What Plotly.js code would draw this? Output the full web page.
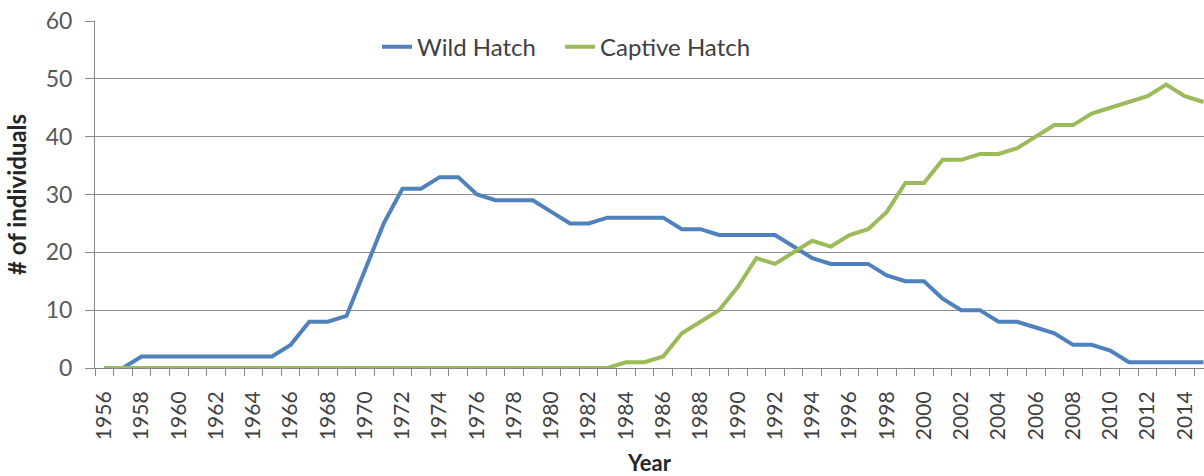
<!DOCTYPE html>
<html>
<head>
<meta charset="utf-8">
<script src="https://cdn.plot.ly/plotly-3.0.1.min.js"></script>
<style>
  html, body { margin: 0; padding: 0; background: #ffffff; }
  #chart { width: 1204px; height: 476px; }
</style>
</head>
<body>
<div id="chart"></div>
<script>
const years = [];
for (let y = 1956; y <= 2015; y++) years.push(y);

const wildHatch = [
  0, 0, 2, 2, 2, 2, 2, 2, 2, 2,        // 1956-1965
  4, 8, 8, 9, 17, 25, 31, 31, 33, 33,  // 1966-1975
  30, 29, 29, 29, 27, 25, 25, 26, 26, 26, // 1976-1985
  26, 24, 24, 23, 23, 23, 23, 21, 19, 18, // 1986-1995
  18, 18, 16, 15, 15, 12, 10, 10, 8, 8,   // 1996-2005
  7, 6, 4, 4, 3, 1, 1, 1, 1, 1            // 2006-2015
];

const captiveHatch = [
  0, 0, 0, 0, 0, 0, 0, 0, 0, 0,        // 1956-1965
  0, 0, 0, 0, 0, 0, 0, 0, 0, 0,        // 1966-1975
  0, 0, 0, 0, 0, 0, 0, 0, 1, 1,        // 1976-1985
  2, 6, 8, 10, 14, 19, 18, 20, 22, 21, // 1986-1995
  23, 24, 27, 32, 32, 36, 36, 37, 37, 38, // 1996-2005
  40, 42, 42, 44, 45, 46, 47, 49, 47, 46  // 2006-2015
];

const seriesNames = ["Wild Hatch", "Captive Hatch"];
const yTicks = [0, 10, 20, 30, 40, 50, 60];
const xLabelYears = years.filter(y => (y - 1956) % 2 === 0);

const FONT = "Lato, 'Open Sans', 'DejaVu Sans', sans-serif";
const legendFont = { family: FONT, size: 24, color: "#404040" };

const traces = [
  {
    x: years, y: wildHatch, name: seriesNames[0], type: "scatter", mode: "lines",
    line: { color: "#4F81BD", width: 4 }, legend: "legend"
  },
  {
    x: years, y: captiveHatch, name: seriesNames[1], type: "scatter", mode: "lines",
    line: { color: "#9BBB59", width: 4 }, legend: "legend2"
  }
];

const layout = {
  width: 1204, height: 476,
  margin: { l: 95, r: 0, t: 21, b: 108, pad: 0 },
  paper_bgcolor: "#ffffff", plot_bgcolor: "#ffffff",
  font: { family: FONT, color: "#404040" },
  showlegend: true,
  legend: {
    orientation: "h", x: 0.2543, xanchor: "left", y: 0.925, yanchor: "middle",
    font: legendFont, bgcolor: "rgba(0,0,0,0)"
  },
  legend2: {
    orientation: "h", x: 0.4193, xanchor: "left", y: 0.925, yanchor: "middle",
    font: legendFont, bgcolor: "rgba(0,0,0,0)"
  },
  xaxis: {
    range: [1955.5, 2015.03],
    tickmode: "array",
    tickvals: xLabelYears,
    ticktext: xLabelYears.map(String),
    tickangle: -90,
    ticks: "",
    ticklabelstandoff: 14,
    minor: { dtick: 1, tick0: 1955.5, ticks: "outside", ticklen: 7, tickcolor: "#868686", showgrid: false },
    tickfont: { family: FONT, size: 21, color: "#404040" },
    showgrid: false, zeroline: false,
    showline: true, linecolor: "#868686", linewidth: 1,
    title: { text: "<b>Year</b>", font: { family: FONT, size: 22, color: "#262626" }, standoff: 16 },
    automargin: false,
    fixedrange: true
  },
  yaxis: {
    range: [0, 60],
    tickmode: "array", tickvals: yTicks, ticktext: yTicks.map(String),
    ticks: "outside", ticklen: 9, tickcolor: "#868686",
    ticklabelstandoff: 8,
    tickfont: { family: FONT, size: 23, color: "#595959" },
    showgrid: true, gridcolor: "#8c8c8c", gridwidth: 1,
    zeroline: false,
    showline: true, linecolor: "#868686", linewidth: 1,
    title: { text: "<b># of individuals</b>", font: { family: FONT, size: 24, color: "#262626" }, standoff: 12 },
    automargin: false,
    fixedrange: true
  }
};

Plotly.newPlot("chart", traces, layout, { displayModeBar: false, staticPlot: true });
</script>
</body>
</html>
